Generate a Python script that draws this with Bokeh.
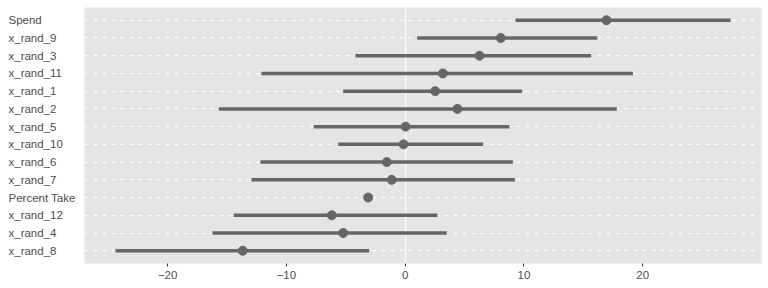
from bokeh.plotting import figure
from bokeh.layouts import row
from bokeh.models import FactorRange, Range1d, FixedTicker, ColumnDataSource
from bokeh.core.properties import value
from bokeh.embed import file_html
from bokeh.resources import INLINE

terms = ["Spend", "x_rand_9", "x_rand_3", "x_rand_11", "x_rand_1", "x_rand_2", "x_rand_5",
         "x_rand_10", "x_rand_6", "x_rand_7", "Percent Take", "x_rand_12", "x_rand_4", "x_rand_8"]
estimate = [16.95, 8.05, 6.26, 3.17, 2.53, 4.40, 0.03, -0.14, -1.55, -1.13, -3.12, -6.18, -5.22, -13.68]
lower = [9.29, 1.01, -4.19, -12.10, -5.22, -15.69, -7.70, -5.64, -12.18, -12.94, -3.30, -14.43, -16.23, -24.40]
upper = [27.39, 16.17, 15.66, 19.17, 9.85, 17.82, 8.78, 6.57, 9.06, 9.23, -2.94, 2.72, 3.50, -3.03]
x_ticks = [-20, -10, 0, 10, 20]

FONT = "Liberation Sans"
TXT = "#4D4D4D"

src = ColumnDataSource(dict(term=terms, est=estimate, lo=lower, hi=upper,
                            lx=[8] * len(terms)))

yr = FactorRange(factors=list(reversed(terms)), range_padding=0.22,
                 range_padding_units="absolute")

# left strip holding the left-aligned category labels
lab = figure(width=84, height=288, output_backend="svg", toolbar_location=None,
             x_range=Range1d(0, 84), y_range=yr, x_axis_type=None, y_axis_type=None,
             min_border_left=0, min_border_right=0, min_border_top=7, min_border_bottom=25)
lab.outline_line_color = None
lab.background_fill_color = "white"
lab.border_fill_color = "white"
lab.grid.visible = False
lab.text(x="lx", y="term", text="term", source=src, text_align="left", text_baseline="middle",
         text_font=value(FONT), text_font_size="11.5px", text_color=TXT)

p = figure(width=684, height=288, output_backend="svg", toolbar_location=None,
           y_range=yr, x_range=Range1d(-27.0, 30.0),
           min_border_left=0, min_border_right=7, min_border_top=7, min_border_bottom=25)

p.background_fill_color = "#E5E5E5"
p.border_fill_color = "white"
p.outline_line_color = None

p.xgrid.visible = False
p.ygrid.grid_line_color = "white"
p.ygrid.grid_line_dash = "4 5"
p.ygrid.grid_line_width = 1

p.vspan(x=[0], line_color="white", line_width=1.3)

p.segment(x0="lo", y0="term", x1="hi", y1="term", source=src, line_color="#666666", line_width=3.5)
p.scatter(x="est", y="term", source=src, size=9, fill_color="#666666", line_color="#666666")

p.xaxis.ticker = FixedTicker(ticks=x_ticks)
p.xaxis.axis_line_color = None
p.xaxis.major_tick_out = 3
p.xaxis.major_tick_in = 0
p.xaxis.major_tick_line_color = "#333333"
p.xaxis.minor_tick_line_color = None
p.xaxis.major_label_text_font = FONT
p.xaxis.major_label_text_font_size = "11.5px"
p.xaxis.major_label_text_color = TXT
p.xaxis.major_label_standoff = 4

p.yaxis.visible = False

layout = row(lab, p, spacing=0)

open("out.html", "w").write(file_html(layout, INLINE))
